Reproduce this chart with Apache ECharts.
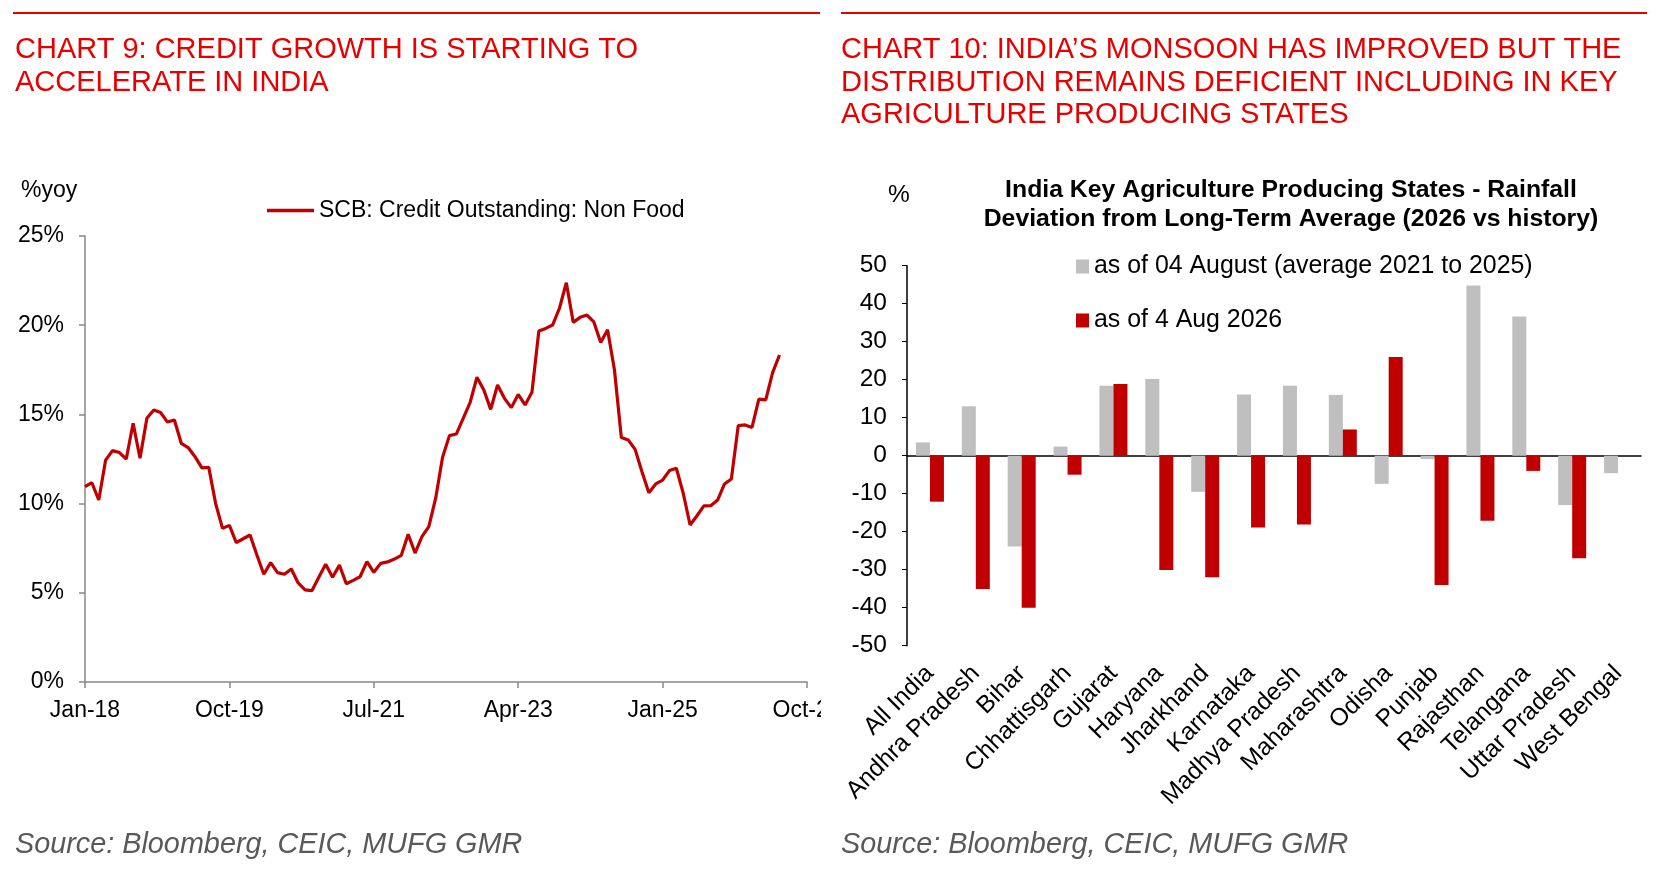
<!DOCTYPE html>
<html>
<head>
<meta charset="UTF-8">
<title>Chart 9 / Chart 10</title>
<script src="https://cdn.jsdelivr.net/npm/echarts@6/dist/echarts.min.js"></script>
<style>
html, body { margin: 0; padding: 0; background: #fff; overflow: hidden; }
#credit { position: absolute; left: 0; top: 0; width: 821px; height: 876px; }
#rain { position: absolute; left: 821px; top: 0; width: 838px; height: 876px; }
</style>
</head>
<body>
<div id="credit"></div>
<div id="rain"></div>
<script>
var FONT = '"Liberation Sans", Arial, sans-serif';
var TITLE_RED = '#e60000';
var LINE_RED = '#c00000';

// ---- chart 9 : non food credit, %yoy, monthly from Jan-18
var monthNames = ['Jan','Feb','Mar','Apr','May','Jun','Jul','Aug','Sep','Oct','Nov','Dec'];
var axisStart = 2018, axisMonths = 106;   // Jan-18 .. Oct-26
var creditName = 'SCB: Credit Outstanding: Non Food';
var creditGrowth = [
  10.95, 11.17, 10.2, 12.44, 12.97, 12.86, 12.5, 14.5, 12.54, 14.78, 15.25, 15.1,
  14.57, 14.69, 13.38, 13.14, 12.63, 12.0, 12.03, 10.0, 8.61, 8.78, 7.81, 8.03,
  8.24, 7.12, 6.04, 6.69, 6.13, 6.04, 6.33, 5.55, 5.16, 5.12, 5.87, 6.6,
  5.87, 6.55, 5.51, 5.7, 5.9, 6.75, 6.15, 6.65, 6.73, 6.89, 7.1, 8.28,
  7.23, 8.15, 8.71, 10.3, 12.6, 13.81, 13.9, 14.78, 15.66, 17.08, 16.37, 15.28,
  16.65, 15.9, 15.38, 16.12, 15.53, 16.24, 19.67, 19.82, 20.01, 20.95, 22.38, 20.16,
  20.44, 20.57, 20.18, 19.03, 19.75, 17.49, 13.7, 13.57, 13.04, 11.79, 10.61, 11.1,
  11.32, 11.85, 11.98, 10.58, 8.8, 9.32, 9.87, 9.88, 10.2, 11.1, 11.38, 14.37,
  14.41, 14.27, 15.86, 15.81, 17.34, 18.33
];

// ---- chart 10 : rainfall deviation from long-term average, %
var states = ['All India','Andhra Pradesh','Bihar','Chhattisgarh','Gujarat','Haryana','Jharkhand',
  'Karnataka','Madhya Pradesh','Maharashtra','Odisha','Punjab','Rajasthan','Telangana',
  'Uttar Pradesh','West Bengal'];
var avgName = 'as of 04 August (average 2021 to 2025)';
var nowName = 'as of 4 Aug 2026';
var avg2021to2025 = [3.5, 13.0, -23.9, 2.4, 18.4, 20.2, -9.5, 16.1, 18.4, 16.0, -7.4, -0.9, 44.8, 36.6, -13.0, -4.6];
var aug2026 = [-12.1, -35.1, -40.0, -5.0, 18.9, -30.1, -32.0, -18.9, -18.1, 6.9, 26.0, -34.0, -17.1, -4.0, -27.0, '-'];

var monthLabels = [];
for (var i = 0; i < axisMonths; i++) {
    var y = axisStart + Math.floor(i / 12);
    monthLabels.push(monthNames[i % 12] + '-' + String(y).slice(2));
}

var chart9 = echarts.init(document.getElementById('credit'), null, {renderer: 'canvas'});
chart9.setOption({
    animation: false,
    textStyle: {fontFamily: FONT},
    title: [
        {
            text: 'CHART 9: CREDIT GROWTH IS STARTING TO\nACCELERATE IN INDIA',
            left: 15, top: 34, padding: 0,
            textStyle: {color: TITLE_RED, fontSize: 29, fontWeight: 'normal', lineHeight: 32.5, fontFamily: FONT}
        },
        {
            text: '%yoy', left: 21, top: 179, padding: 0,
            textStyle: {color: '#000', fontSize: 23, fontWeight: 'normal', lineHeight: 24, fontFamily: FONT}
        },
        {
            text: 'Source: Bloomberg, CEIC, MUFG GMR', left: 15, top: 830, padding: 0,
            textStyle: {color: '#595959', fontSize: 28.8, fontStyle: 'italic', fontWeight: 'normal', lineHeight: 30, fontFamily: FONT}
        }
    ],
    graphic: [
        {type: 'line', shape: {x1: 13, y1: 13, x2: 820, y2: 13}, style: {stroke: TITLE_RED, lineWidth: 2}}
    ],
    legend: {
        data: [creditName],
        left: 267, top: 199, padding: 0,
        icon: 'rect', itemWidth: 47, itemHeight: 3.5,
        textStyle: {color: '#000', fontSize: 23, fontFamily: FONT}
    },
    grid: {left: 85, right: 14, top: 236, bottom: 194, containLabel: false, outerBoundsMode: 'none'},
    xAxis: {
        type: 'category',
        boundaryGap: false,
        data: monthLabels,
        axisLine: {lineStyle: {color: '#888', width: 1.5}},
        axisTick: {interval: 20, length: 6, lineStyle: {color: '#888', width: 1.5}},
        axisLabel: {interval: 20, margin: 17, fontSize: 23, color: '#000', fontFamily: FONT}
    },
    yAxis: {
        type: 'value',
        min: 0, max: 25, interval: 5,
        splitLine: {show: false},
        axisLine: {show: true, lineStyle: {color: '#888', width: 1.5}},
        axisTick: {show: true, length: 6, lineStyle: {color: '#888', width: 1.5}},
        axisLabel: {formatter: '{value}%', margin: 21, fontSize: 23, color: '#000', fontFamily: FONT}
    },
    series: [{
        name: creditName,
        type: 'line',
        data: creditGrowth,
        symbol: 'none',
        lineStyle: {color: LINE_RED, width: 3.2},
        itemStyle: {color: LINE_RED}
    }]
});

var chart10 = echarts.init(document.getElementById('rain'), null, {renderer: 'canvas'});
chart10.setOption({
    animation: false,
    textStyle: {fontFamily: FONT},
    title: [
        {
            text: 'CHART 10: INDIA\u2019S MONSOON HAS IMPROVED BUT THE\nDISTRIBUTION REMAINS DEFICIENT INCLUDING IN KEY\nAGRICULTURE PRODUCING STATES',
            left: 20, top: 34, padding: 0,
            textStyle: {color: TITLE_RED, fontSize: 29, fontWeight: 'normal', lineHeight: 32.5, fontFamily: FONT}
        },
        {
            text: '%', left: 67, top: 182, padding: 0,
            textStyle: {color: '#000', fontSize: 24.5, fontWeight: 'normal', lineHeight: 26, fontFamily: FONT}
        },
        {
            text: 'Source: Bloomberg, CEIC, MUFG GMR', left: 20, top: 830, padding: 0,
            textStyle: {color: '#595959', fontSize: 28.8, fontStyle: 'italic', fontWeight: 'normal', lineHeight: 30, fontFamily: FONT}
        }
    ],
    graphic: [
        {type: 'line', shape: {x1: 20, y1: 13, x2: 826, y2: 13}, style: {stroke: TITLE_RED, lineWidth: 2}},
        {
            type: 'text', x: 470, y: 175.5,
            style: {
                text: 'India Key Agriculture Producing States - Rainfall\nDeviation from Long-Term Average (2026 vs history)',
                fill: '#000', font: 'bold 24.8px ' + FONT, textAlign: 'center', textVerticalAlign: 'top', lineHeight: 29
            }
        }
    ],
    legend: [
        {
            data: [avgName], left: 255, top: 254, padding: 0, icon: 'rect',
            itemWidth: 13, itemHeight: 14,
            textStyle: {color: '#000', fontSize: 24.9, fontFamily: FONT}
        },
        {
            data: [nowName], left: 255, top: 308, padding: 0, icon: 'rect',
            itemWidth: 13, itemHeight: 14,
            textStyle: {color: '#000', fontSize: 24.9, fontFamily: FONT}
        }
    ],
    grid: {left: 86, right: 18, top: 265.7, bottom: 230.3, containLabel: false, outerBoundsMode: 'none'},
    xAxis: [
        {
            type: 'category', data: states, position: 'bottom',
            axisLine: {show: false, onZero: false},
            axisTick: {show: false},
            axisLabel: {interval: 0, rotate: 45, margin: 24, fontSize: 24.5, color: '#000', fontFamily: FONT}
        },
        {
            type: 'category', data: states, position: 'bottom',
            axisLine: {show: true, onZero: true, lineStyle: {color: '#000', width: 1.5}},
            axisTick: {show: false},
            axisLabel: {show: false}
        }
    ],
    yAxis: {
        type: 'value',
        min: -50, max: 50, interval: 10,
        splitLine: {show: false},
        axisLine: {show: true, onZero: false, lineStyle: {color: '#000', width: 1.5}},
        axisTick: {show: true, length: 5, lineStyle: {color: '#000'}},
        axisLabel: {margin: 20, fontSize: 24.5, color: '#000', fontFamily: FONT}
    },
    series: [
        {
            name: avgName, type: 'bar', xAxisIndex: 0,
            data: avg2021to2025, barWidth: 14, barGap: '0%',
            itemStyle: {color: '#bfbfbf'}
        },
        {
            name: nowName, type: 'bar', xAxisIndex: 0,
            data: aug2026, barWidth: 14, barGap: '0%',
            itemStyle: {color: LINE_RED}
        }
    ]
});
</script>
</body>
</html>
